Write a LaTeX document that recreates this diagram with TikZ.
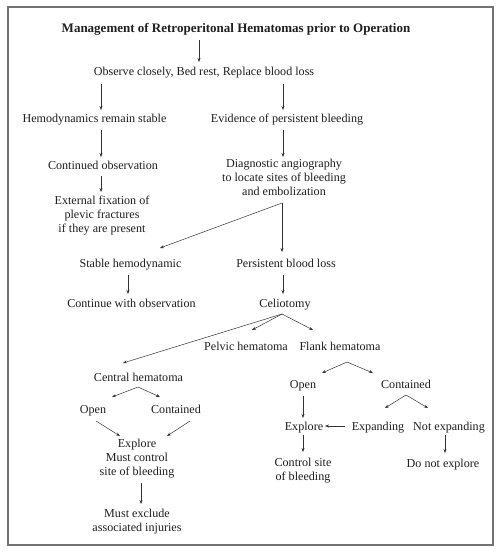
\documentclass[tikz,border=0pt]{standalone}
\usepackage{fontspec}
\setmainfont{Liberation Serif}
\usetikzlibrary{arrows.meta}
\begin{document}
\begin{tikzpicture}[x=1pt,y=-1pt,
  t/.style={align=center,inner sep=0pt,font=\fontsize{12.1}{14}\selectfont,text=black!88,
    execute at begin node=\rule{0pt}{11pt},execute at end node=\rule[-3pt]{0pt}{3pt}},
  ttl/.style={t,font=\fontsize{13}{14}\selectfont\bfseries},
  arr/.style={draw=black!80,line width=0.5pt,-{Stealth[length=4pt,width=3pt]}}]
\useasboundingbox (0,0) rectangle (500,554);
\fill[white] (0,0) rectangle (500,554);
\draw[black!55,line width=1.1pt] (8,7) rectangle (493,545);
% nodes
\node[ttl] (title) at (236,28.5) {Management of Retroperitonal Hematomas prior to Operation};
\node[t] (obs) at (204,71) {Observe closely, Bed rest, Replace blood loss};
\node[t] (hem) at (94.5,118) {Hemodynamics remain stable};
\node[t] (evid) at (287,118) {Evidence of persistent bleeding};
\node[t] (cont) at (103,165) {Continued observation};
\node[t] (angio) at (284,179) {Diagnostic angiography\\to locate sites of bleeding\\and embolization};
\node[t] (ext) at (102,216) {External fixation of\\plevic fractures\\if they are present};
\node[t] (stab) at (130.5,263) {Stable hemodynamic};
\node[t] (pers) at (286,263) {Persistent blood loss};
\node[t] (contobs) at (131.5,303) {Continue with observation};
\node[t] (celio) at (285,303) {Celiotomy};
\node[t] (pelvic) at (246,346) {Pelvic hematoma};
\node[t] (flank) at (340,346) {Flank hematoma};
\node[t] (central) at (138.5,377) {Central hematoma};
\node[t] (lopen) at (93,409) {Open};
\node[t] (lcont) at (176,409) {Contained};
\node[t] (lexpl) at (137,459) {Explore\\Must control\\site of bleeding};
\node[t] (mustex) at (137,521.5) {Must exclude\\associated injuries};
\node[t] (ropen) at (303,384) {Open};
\node[t] (rcont) at (406,384) {Contained};
\node[t] (rexpl) at (304,426) {Explore};
\node[t] (expand) at (378,426) {Expanding};
\node[t] (notexp) at (449,426) {Not expanding};
\node[t] (ctrl) at (303,470.5) {Control site\\of bleeding};
\node[t] (donot) at (443,463) {Do not explore};
% connectors
\draw[arr] ([shift={(-37,11.5)}]title.center) -- ([shift={(-5,-9)}]obs.center);
\draw[arr] ([shift={(-103,13)}]obs.center) -- ([shift={(6.5,-8)}]hem.center);
\draw[arr] ([shift={(79,13)}]obs.center) -- ([shift={(-4,-8)}]evid.center);
\draw[arr] ([shift={(6.5,12)}]hem.center) -- ([shift={(-2,-8)}]cont.center);
\draw[arr] ([shift={(-4,12)}]evid.center) -- ([shift={(-1,-22)}]angio.center);
\draw[arr] ([shift={(-2,11)}]cont.center) -- ([shift={(-1,-24)}]ext.center);
\draw[arr] ([shift={(-2,24)}]angio.center) -- ([shift={(29.5,-15)}]stab.center);
\draw[arr] ([shift={(-2,24)}]angio.center) -- ([shift={(-4,-11)}]pers.center);
\draw[arr] ([shift={(-2.5,12)}]stab.center) -- ([shift={(-3.5,-9)}]contobs.center);
\draw[arr] ([shift={(-3,12)}]pers.center) -- ([shift={(-2,-9)}]celio.center);
\draw[arr] ([shift={(-3,11)}]celio.center) -- ([shift={(-15.5,-14)}]central.center);
\draw[arr] ([shift={(-3,11)}]celio.center) -- ([shift={(6,-16)}]pelvic.center);
\draw[arr] ([shift={(-3,11)}]celio.center) -- ([shift={(-27,-16)}]flank.center);
\draw[arr] ([shift={(7,16)}]flank.center) -- ([shift={(19,-11)}]ropen.center);
\draw[arr] ([shift={(7,16)}]flank.center) -- ([shift={(-33,-11)}]rcont.center);
\draw[arr] ([shift={(-0.5,10)}]central.center) -- ([shift={(19,-12)}]lopen.center);
\draw[arr] ([shift={(-0.5,10)}]central.center) -- ([shift={(-16,-12)}]lcont.center);
\draw[arr] ([shift={(3,12)}]lopen.center) -- ([shift={(-17,-23)}]lexpl.center);
\draw[arr] ([shift={(14,12)}]lcont.center) -- ([shift={(30,-23)}]lexpl.center);
\draw[arr] ([shift={(4,24)}]lexpl.center) -- ([shift={(4,-17.5)}]mustex.center);
\draw[arr] ([shift={(0,12)}]ropen.center) -- ([shift={(-1,-8)}]rexpl.center);
\draw[arr] ([shift={(0,11)}]rcont.center) -- ([shift={(7,-18)}]expand.center);
\draw[arr] ([shift={(0,11)}]rcont.center) -- ([shift={(-21,-18)}]notexp.center);
\draw[arr] ([shift={(-33,0)}]expand.center) -- ([shift={(21,0)}]rexpl.center);
\draw[arr] ([shift={(-1,9)}]rexpl.center) -- ([shift={(0,-18.5)}]ctrl.center);
\draw[arr] ([shift={(-4,9)}]notexp.center) -- ([shift={(2,-10)}]donot.center);
\end{tikzpicture}
\end{document}
